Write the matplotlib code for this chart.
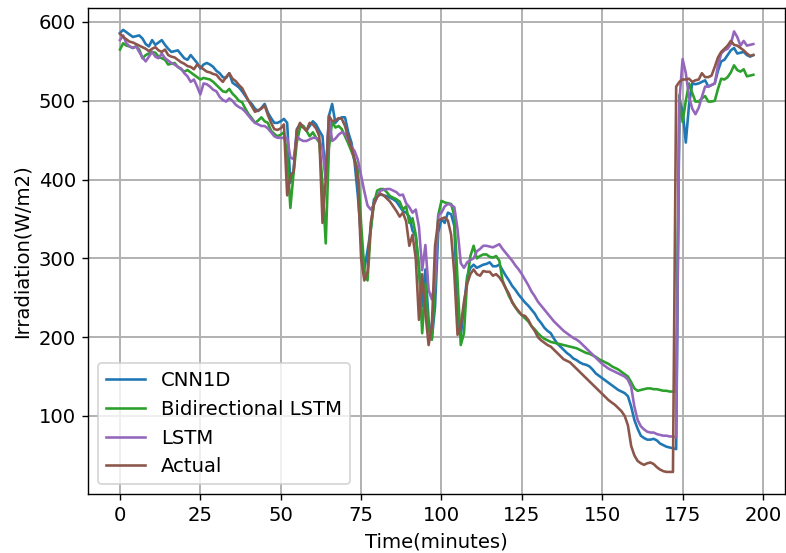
import numpy as np
import matplotlib
matplotlib.use("Agg")
import matplotlib.pyplot as plt

# Irradiation (W/m2) per minute: measured values and three model forecasts
actual = [
    585, 581, 578, 575, 574, 572, 570, 568, 566, 563,
    566, 568, 564, 562, 565, 558, 556, 555, 552, 549,
    547, 544, 543, 540, 546, 543, 540, 537, 536, 534,
    533, 528, 524, 530, 535, 528, 525, 520, 516, 508,
    500, 493, 486, 488, 490, 494, 482, 472, 464, 463,
    465, 470, 380, 405, 410, 462, 472, 466, 462, 472,
    470, 465, 455, 345, 400, 481, 474, 475, 478, 477,
    468, 453, 440, 425, 400, 300, 272, 282, 345, 370,
    378, 382, 380, 376, 372, 366, 360, 353, 358, 347,
    316, 330, 300, 222, 280, 231, 190, 214, 316, 348,
    350, 352, 348, 330, 280, 203, 214, 245, 268, 280,
    286, 280, 278, 284, 283, 283, 278, 280, 276, 270,
    262, 255, 244, 238, 233, 228, 227, 222, 214, 208,
    200, 196, 193, 190, 188, 184, 180, 176, 172, 170,
    168, 164, 160, 156, 152, 148, 144, 140, 136, 132,
    128, 124, 120, 117, 114, 110, 106, 100, 88, 62,
    50, 43, 40, 38, 40, 41, 39, 35, 32, 30,
    29, 29, 29, 518, 524, 527, 527, 528, 524, 526,
    527, 535, 530, 530, 532, 543, 555, 562, 566, 570,
    576, 571, 570, 567, 564, 560, 557, 558,
]

cnn1d = [
    586, 590, 587, 584, 581, 582, 583, 579, 572, 569,
    577, 571, 574, 577, 571, 566, 562, 563, 564, 559,
    554, 552, 558, 553, 548, 541, 546, 548, 546, 543,
    538, 535, 530, 529, 535, 523, 520, 517, 512, 506,
    500, 496, 490, 487, 491, 496, 485, 478, 472, 472,
    474, 477, 472, 396, 411, 464, 470, 468, 462, 468,
    474, 470, 462, 455, 400, 481, 496, 472, 477, 479,
    479, 460, 447, 421, 379, 324, 286, 310, 336, 375,
    379, 381, 380, 379, 377, 375, 372, 366, 360, 358,
    353, 335, 329, 286, 239, 286, 222, 197, 239, 333,
    350, 345, 358, 356, 341, 231, 201, 239, 277, 288,
    292, 288, 290, 292, 293, 295, 290, 290, 292, 285,
    278, 272, 265, 260, 254, 249, 244, 240, 235, 230,
    223, 218, 212, 208, 205, 198, 192, 188, 184, 180,
    177, 173, 171, 168, 166, 165, 163, 159, 154, 151,
    148, 145, 142, 139, 136, 133, 131, 129, 125, 112,
    95, 84, 75, 72, 70, 70, 71, 69, 65, 63,
    61, 60, 59, 58, 500, 488, 447, 495, 522, 521,
    522, 524, 526, 518, 520, 522, 538, 550, 552, 558,
    564, 567, 560, 561, 562, 558, 556, 558,
]

bilstm = [
    565, 573, 570, 569, 567, 569, 565, 554, 558, 560,
    562, 561, 556, 554, 552, 546, 547, 548, 543, 540,
    537, 539, 536, 533, 530, 527, 529, 528, 527, 524,
    520, 516, 512, 511, 515, 509, 505, 500, 498, 490,
    483, 478, 472, 475, 479, 474, 472, 462, 458, 455,
    457, 460, 430, 364, 408, 447, 466, 468, 462, 455,
    460, 453, 447, 395, 319, 440, 474, 466, 468, 464,
    455, 446, 436, 425, 413, 345, 285, 272, 336, 370,
    386, 388, 388, 384, 379, 377, 375, 372, 362, 366,
    345, 351, 330, 290, 205, 268, 210, 197, 265, 355,
    373, 371, 370, 369, 354, 273, 190, 205, 273, 303,
    316, 300, 303, 305, 305, 302, 301, 303, 297, 272,
    262, 252, 245, 238, 232, 228, 224, 220, 214, 210,
    205, 201, 198, 196, 194, 193, 192, 191, 190, 189,
    188, 187, 186, 184, 182, 180, 179, 177, 175, 172,
    170, 168, 166, 163, 161, 159, 156, 153, 150, 143,
    135, 132, 133, 134, 135, 135, 134, 134, 133, 132,
    132, 131, 131, 131, 507, 473, 500, 522, 510, 499,
    499, 503, 506, 499, 499, 500, 515, 528, 527, 530,
    536, 545, 539, 537, 540, 531, 532, 533,
]

lstm = [
    577, 583, 573, 569, 567, 569, 562, 555, 550, 556,
    562, 556, 554, 560, 554, 551, 548, 546, 543, 541,
    535, 531, 524, 527, 518, 508, 522, 521, 518, 514,
    512, 505, 501, 499, 503, 500, 495, 492, 490, 486,
    481, 476, 472, 470, 468, 468, 465, 460, 455, 453,
    453, 453, 453, 428, 426, 455, 451, 449, 449, 451,
    453, 453, 450, 438, 400, 479, 449, 452, 457, 460,
    458, 450, 442, 436, 425, 405, 385, 367, 362, 368,
    378, 386, 387, 388, 388, 386, 384, 380, 381, 370,
    365, 358, 362, 340, 285, 317, 260, 248, 270, 355,
    358, 366, 369, 368, 365, 337, 294, 288, 295, 298,
    300, 309, 312, 316, 316, 315, 314, 316, 318, 312,
    307, 302, 297, 291, 286, 280, 273, 266, 258, 252,
    245, 240, 235, 230, 225, 220, 216, 212, 208, 205,
    202, 199, 197, 194, 190, 186, 182, 178, 174, 170,
    166, 163, 160, 158, 156, 154, 152, 150, 146, 137,
    112, 95, 87, 83, 80, 79, 79, 77, 76, 75,
    75, 74, 74, 73, 500, 553, 535, 505, 490, 483,
    491, 505, 518, 518, 520, 522, 545, 560, 564, 566,
    572, 588, 581, 570, 576, 570, 571, 572,
]

series = [
    ("CNN1D", cnn1d, "tab:blue"),
    ("Bidirectional LSTM", bilstm, "tab:green"),
    ("LSTM", lstm, "tab:purple"),
    ("Actual", actual, "tab:brown"),
]

plt.rcParams["font.size"] = 11.3

fig = plt.figure(figsize=(786 / 125, 553 / 125), dpi=125)
ax = fig.add_axes([88.3 / 786, 1 - 494 / 553, (785 - 88.3) / 786, (494 - 7.8) / 553])

for label, values, color in series:
    ax.plot(np.arange(len(values)), values, color=color, label=label, linewidth=1.5)

ax.set_xlim(-9.85, 206.85)
ax.set_ylim(1, 618)
ax.set_xticks([0, 25, 50, 75, 100, 125, 150, 175, 200])
ax.set_yticks([100, 200, 300, 400, 500, 600])
ax.grid(True, color="#b0b0b0", linewidth=1.1)
ax.set_xlabel("Time(minutes)")
ax.set_ylabel("Irradiation(W/m2)")
ax.legend(loc="lower left")

fig.savefig("out.png", dpi=125)
